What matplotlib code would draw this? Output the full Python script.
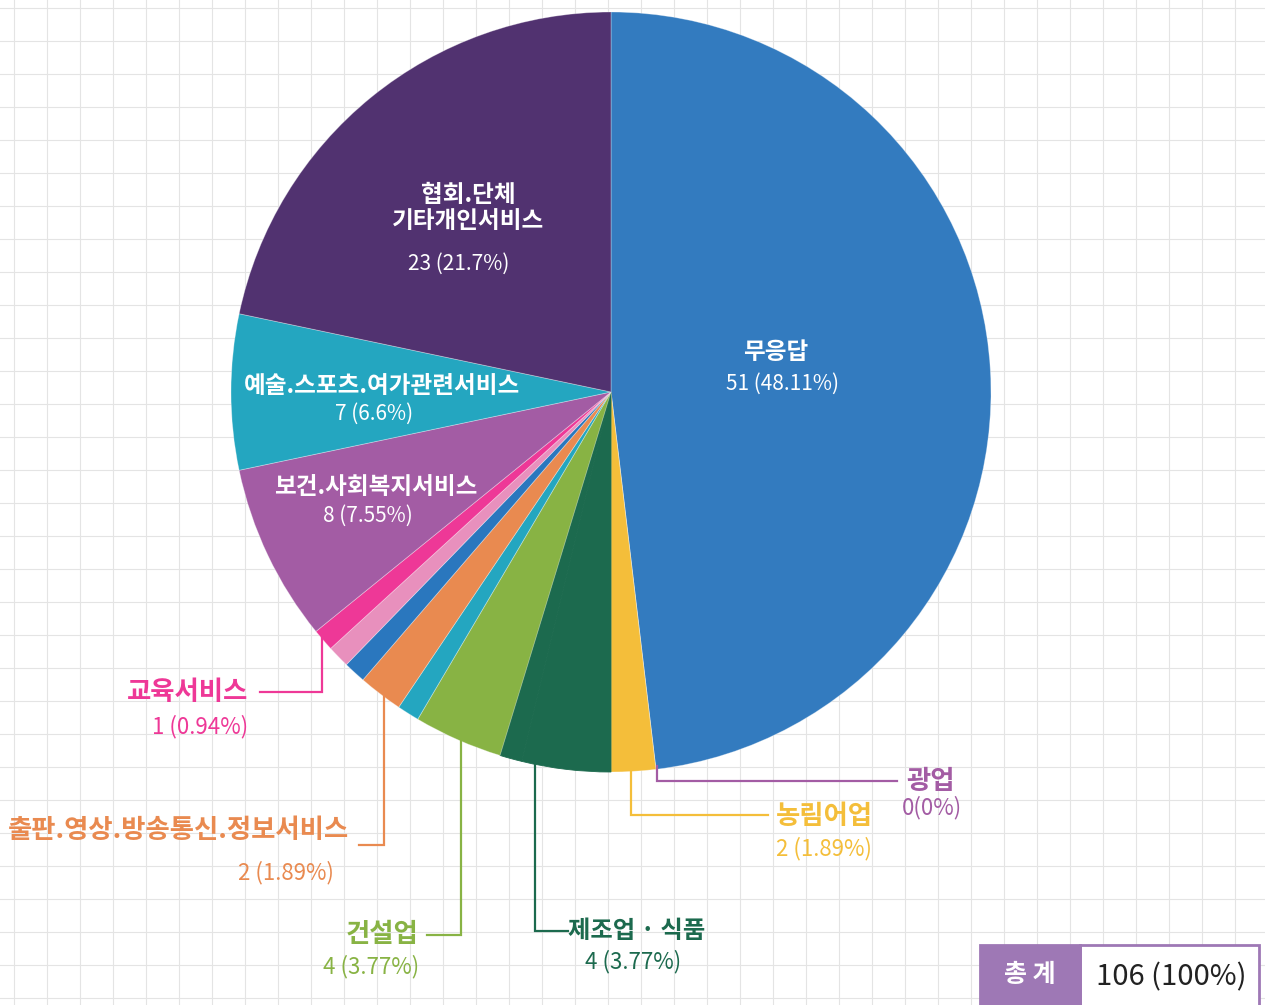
import numpy as np
import matplotlib.pyplot as plt
from matplotlib.patches import Rectangle

plt.rcParams['font.family'] = ['Noto Sans CJK KR', 'DejaVu Sans']

# slices, clockwise from 12 o'clock ('' = small slice without a label)
categories = ['무응답', '광업', '농림어업', '제조업 · 식품', '', '건설업', '',
              '출판.영상.방송통신.정보서비스', '', '', '교육서비스',
              '보건.사회복지서비스', '예술.스포츠.여가관련서비스', '협회.단체\n기타개인서비스']
counts = [51, 0, 2, 4, 1, 4, 1, 2, 1, 1, 1, 8, 7, 23]
colors = ['#337BBF', '#A35CA4', '#F4BE3A', '#1C6A4E', '#1C6A4E', '#88B344', '#24A6C0',
          '#E98A50', '#2A77BE', '#E890BD', '#EE3897', '#A35CA4', '#24A6C0', '#513270']
total = sum(counts)

def value_text(c):
    if c == 0:
        return '0(0%)'
    return f'{c} ({round(c / total * 100, 2):g}%)'

W, H = 1265, 1005
cx, cy, R = 611, 392, 380

fig = plt.figure(figsize=(W / 100, H / 100), dpi=100)
ax = fig.add_axes([0, 0, 1, 1])

# background grid
for gx in np.arange(14, W, 33):
    ax.axvline(gx, color='#E4E4E4', lw=0.8, zorder=0)
for gy in np.arange(8, H, 33):
    ax.axhline(gy, color='#E4E4E4', lw=0.8, zorder=0)

# y axis is inverted (pixel coords), so counterclock=True runs clockwise on screen
wedges, _ = ax.pie(counts, colors=colors, startangle=-90, counterclock=True,
                   center=(cx, cy), radius=R, frame=True,
                   wedgeprops=dict(edgecolor=(1, 1, 1, 0.35), linewidth=0.6, zorder=2))
# the two dark green slices read as one block
for w in wedges[3:5]:
    w.set_edgecolor(w.get_facecolor())

ax.set_xlim(0, W)
ax.set_ylim(H, 0)
ax.set_aspect('auto')
ax.axis('off')

# labels inside the pie: name pos, value pos
inside = {
    '무응답': ((776, 352), (783, 384)),
    '보건.사회복지서비스': ((376, 487), (368, 516)),
    '예술.스포츠.여가관련서비스': ((382, 386), (374, 414)),
    '협회.단체\n기타개인서비스': ((468, 208), (459, 264)),
}
for cat, (npos, vpos) in inside.items():
    c = counts[categories.index(cat)]
    ax.text(*npos, cat, ha='center', va='center', color='white', fontsize=17,
            fontweight='bold', linespacing=1.15, zorder=5)
    ax.text(*vpos, value_text(c), ha='center', va='center', color='white',
            fontsize=15, fontweight='light', zorder=5)

# labels outside: name pos, value pos, leader (x of drop, y of turn, x end)
outside = {
    '광업': ((931, 781), (932, 808), (657, 781, 897)),
    '농림어업': ((824, 816), (824, 849), (631, 815, 768)),
    '제조업 · 식품': ((637, 931), (633, 962), (535, 931, 568)),
    '건설업': ((382, 934), (371, 967), (461, 935, 427)),
    '출판.영상.방송통신.정보서비스': ((178, 830), (286, 873), (384, 845, 359)),
    '교육서비스': ((188, 692), (200, 727), (322, 692, 260)),
}
for cat, (npos, vpos, (lx, ly, lx2)) in outside.items():
    i = categories.index(cat)
    col = colors[i]
    y0 = cy + np.sqrt(R ** 2 - (lx - cx) ** 2) - 3
    ax.plot([lx, lx, lx2], [y0, ly, ly], color=col, lw=1.6, zorder=3,
            solid_joinstyle='miter')
    fs = 17.5 if cat == '제조업 · 식품' else 19
    ax.text(*npos, cat, ha='center', va='center', color=col, fontsize=fs,
            fontweight='bold', zorder=5)
    ax.text(*vpos, value_text(counts[i]), ha='center', va='center', color=col,
            fontsize=16, fontweight='light', zorder=5)

# total box
ax.add_patch(Rectangle((1080, 945), 179, 80, facecolor='white', edgecolor='#9E78B5',
                       lw=2, zorder=4))
ax.add_patch(Rectangle((980, 945), 100, 80, facecolor='#9E78B5', edgecolor='#9E78B5',
                       lw=2, zorder=4))
ax.text(1030, 975, '총 계', ha='center', va='center', color='white', fontsize=18,
        fontweight='bold', zorder=5)
ax.text(1171, 977, f'{total} (100%)', ha='center', va='center', color='#222222',
        fontsize=21, zorder=5)

fig.savefig('out.png', dpi=100)
